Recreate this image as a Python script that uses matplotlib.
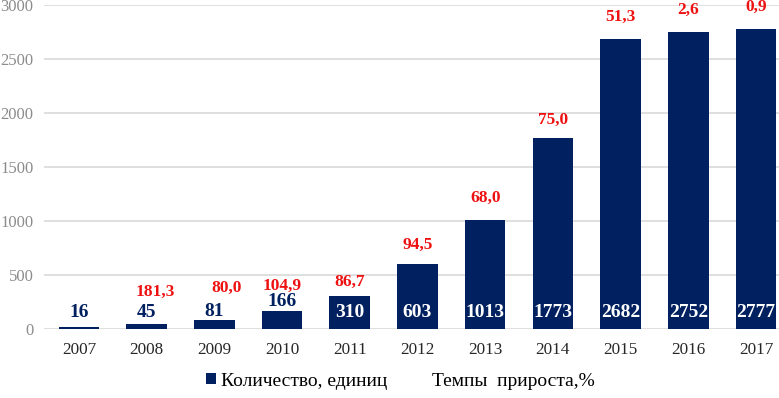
import matplotlib
matplotlib.use("Agg")
import matplotlib.pyplot as plt
from matplotlib.lines import Line2D
from matplotlib.patches import Patch

years = ["2007", "2008", "2009", "2010", "2011", "2012", "2013", "2014", "2015", "2016", "2017"]
counts = [16, 45, 81, 166, 310, 603, 1013, 1773, 2682, 2752, 2777]
growth = [None, 181.3, 80.0, 104.9, 86.7, 94.5, 68.0, 75.0, 51.3, 2.6, 0.9]

# label offsets (points) for growth labels relative to bar tops
g_dx = [0, 6, 9, 0, 0, 0, 0, 0, 0, 0, 0]
g_dy = [0, 23, 23, 18.5, 9.7, 13.6, 15.5, 12.6, 16, 16, 16]

navy = "#002060"
red = "#EE1111"
plt.rcParams['font.family'] = ['Liberation Serif', 'DejaVu Serif']

fig = plt.figure(figsize=(7.79, 3.98), dpi=100)
ax = fig.add_axes([44/779, 69/398, 1 - 44/779, (329-5)/398])

x = list(range(len(years)))
ax.bar(x, counts, width=0.6, color=navy, zorder=3)

ax.set_ylim(0, 3000)
ax.set_xlim(-0.517, 10.34)
ax.set_yticks(range(0, 3001, 500))
ax.set_xticks(x)
ax.set_xticklabels(years)
ax.grid(axis='y', color='#D9D9D9', linewidth=1.2, zorder=0)
for s in ax.spines.values():
    s.set_visible(False)
ax.tick_params(axis='y', length=0, pad=7.5, labelsize=12, labelcolor='#8C8C8C')
ax.tick_params(axis='x', length=0, pad=9, labelsize=12.3, labelcolor='#262626')

for i, v in enumerate(counts):
    if v >= 300:
        ax.text(i, 150, str(v), ha='center', va='center', color='white',
                fontsize=14, fontweight='bold', zorder=4)
    else:
        ax.text(i, max(150, v + 85), str(v), ha='center', va='center', color=navy,
                fontsize=14, fontweight='bold', zorder=4)

for i, g in enumerate(growth):
    if g is None:
        continue
    ax.annotate(f"{g:.1f}".replace('.', ','), xy=(i, counts[i]),
                xytext=(g_dx[i], g_dy[i]), textcoords='offset points',
                ha='center', va='center', color=red, fontsize=12.5,
                fontweight='bold', annotation_clip=False, zorder=5)

handles = [Patch(facecolor=navy, edgecolor='none'),
           Line2D([], [], linestyle='none')]
fig.legend(handles, ["Количество, единиц", "Темпы  прироста,%"],
           loc='center', bbox_to_anchor=(400.5/779, 1 - 381/398), ncol=2,
           frameon=False, fontsize=14, handlelength=0.5, handleheight=0.5,
           handletextpad=0.25, columnspacing=1.56)

fig.savefig("out.png", dpi=100)
